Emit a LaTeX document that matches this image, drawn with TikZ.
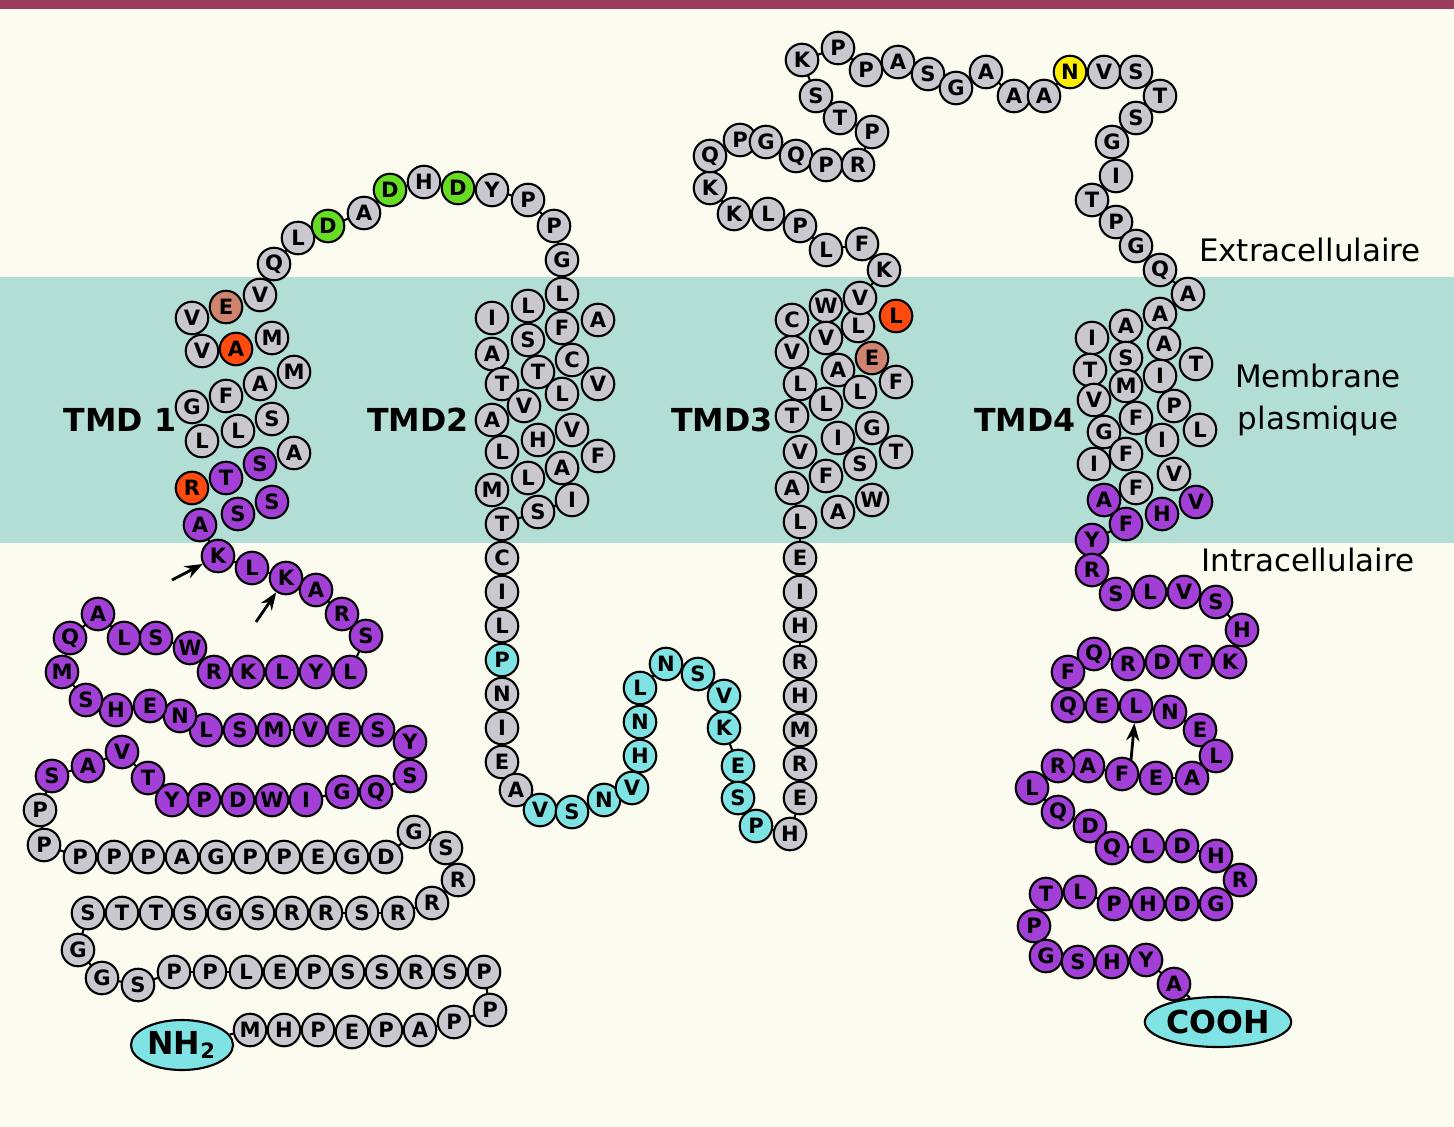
\documentclass[tikz,border=0pt]{standalone}
\usepackage{fontspec}
\setsansfont{DejaVu Sans}
\usetikzlibrary{arrows.meta,shapes.geometric}
\definecolor{cG}{HTML}{C8C8CE}
\definecolor{cP}{HTML}{A23FD6}
\definecolor{cC}{HTML}{7FE3E3}
\definecolor{cO}{HTML}{FF4A10}
\definecolor{cS}{HTML}{D08470}
\definecolor{cD}{HTML}{66DD22}
\definecolor{cY}{HTML}{FFEE00}
\definecolor{bgcream}{HTML}{FCFBF0}
\definecolor{bgband}{HTML}{B2DED6}
\definecolor{topbar}{HTML}{9A3C5E}
\tikzset{
  res/.style={circle,draw=black,line width=0.6pt,minimum size=0.325cm,inner sep=0pt,
    font=\sffamily\bfseries\fontsize{6}{6}\selectfont},
  term/.style={ellipse,draw=black,line width=0.6pt,fill=cC,minimum width=1.02cm,minimum height=0.5cm,inner sep=0pt,
    font=\sffamily\bfseries\fontsize{9}{9}\selectfont},
  lab/.style={font=\sffamily\bfseries\fontsize{9}{9}\selectfont},
  side/.style={font=\sffamily\fontsize{8.8}{12}\selectfont,align=center},
  site/.style={-{Stealth[length=5pt]},line width=0.8pt},
}
\def\chain{250/1030/M/cG,284/1030/H/cG,318/1030/P/cG,352/1032/E/cG,386/1030/P/cG,420/1030/A/cG,454/1022/P/cG,490/1010/P/cG,
484/972/P/cG,450/972/S/cG,416/972/R/cG,382/972/S/cG,348/972/S/cG,314/972/P/cG,280/972/E/cG,246/972/L/cG,210/972/P/cG,174/972/P/cG,138/985/S/cG,102/978/G/cG,78/950/G/cG,
88/913/S/cG,122/913/T/cG,156/913/T/cG,190/913/S/cG,224/913/G/cG,258/913/S/cG,292/913/R/cG,326/913/R/cG,362/913/S/cG,398/913/R/cG,432/903/R/cG,458/880/R/cG,446/848/S/cG,414/832/G/cG,
386/857/D/cG,352/857/G/cG,318/857/E/cG,284/857/P/cG,250/857/P/cG,216/857/G/cG,182/857/A/cG,148/857/P/cG,114/857/P/cG,80/857/P/cG,44/845/P/cG,40/810/P/cG,
52/776/S/cP,88/766/A/cP,122/752/V/cP,148/778/T/cP,172/800/Y/cP,204/800/P/cP,238/800/D/cP,272/800/W/cP,306/800/I/cP,342/792/G/cP,376/792/Q/cP,410/776/S/cP,410/742/Y/cP,
378/730/S/cP,344/730/E/cP,310/730/V/cP,274/730/M/cP,240/730/S/cP,206/730/L/cP,180/716/N/cP,150/706/E/cP,116/710/H/cP,86/700/S/cP,62/672/M/cP,
70/638/Q/cP,98/614/A/cP,124/638/L/cP,156/638/S/cP,190/648/W/cP,214/672/R/cP,248/672/K/cP,282/672/L/cP,316/672/Y/cP,350/672/L/cP,366/636/S/cP,342/614/R/cP,316/590/A/cP,286/578/K/cP,252/568/L/cP,218/556/K/cP,
200/525/A/cP,238/514/S/cP,272/502/S/cP,192/488/R/cO,226/478/T/cP,260/464/S/cP,294/453/A/cG,202/441/L/cG,238/431/L/cG,272/419/S/cG,192/407/G/cG,226/396/F/cG,260/384/A/cG,294/372/M/cG,202/351/V/cG,236/349/A/cO,272/338/M/cG,192/318/V/cG,226/307/E/cS,260/295/V/cG,
274/264/Q/cG,298/238/L/cG,328/226/D/cD,364/213/A/cG,390/190/D/cD,424/182/H/cG,458/188/D/cD,492/190/Y/cG,528/200/P/cG,554/226/P/cG,562/260/G/cG,
562/294/L/cG,598/320/A/cG,562/328/F/cG,528/306/L/cG,492/318/I/cG,528/340/S/cG,572/360/C/cG,598/384/V/cG,562/394/L/cG,538/372/T/cG,492/354/A/cG,502/384/T/cG,524/406/V/cG,492/420/A/cG,538/440/H/cG,572/430/V/cG,598/456/F/cG,562/468/A/cG,528/478/L/cG,502/452/L/cG,492/490/M/cG,538/512/S/cG,572/500/I/cG,
502/524/T/cG,502/558/C/cG,502/592/I/cG,502/626/L/cG,502/660/P/cC,502/694/N/cG,502/728/I/cG,502/762/E/cG,516/790/A/cG,540/810/V/cC,572/812/S/cC,604/800/N/cC,632/788/V/cC,640/756/H/cC,640/722/N/cC,640/688/L/cC,666/664/N/cC,698/674/S/cC,724/696/V/cC,724/728/K/cC,738/766/E/cC,738/798/S/cC,756/826/P/cC,790/834/H/cG,
800/798/E/cG,800/764/R/cG,800/730/M/cG,800/696/H/cG,800/662/R/cG,800/626/H/cG,800/592/I/cG,800/558/E/cG,800/522/L/cG,792/488/A/cG,838/512/A/cG,872/500/W/cG,860/464/S/cG,826/476/F/cG,800/452/V/cG,838/438/I/cG,872/428/G/cG,896/452/T/cG,826/404/L/cG,792/416/T/cG,800/384/L/cG,792/352/V/cG,792/320/C/cG,826/306/W/cG,826/338/V/cG,838/370/A/cG,860/392/L/cG,896/382/F/cG,872/358/E/cS,858/326/L/cG,896/316/L/cO,860/298/V/cG,
884/270/K/cG,862/244/F/cG,826/250/L/cG,800/226/P/cG,768/214/L/cG,734/214/K/cG,710/188/K/cG,710/156/Q/cG,740/140/P/cG,766/142/G/cG,796/156/Q/cG,826/165/P/cG,858/165/R/cG,872/132/P/cG,840/118/T/cG,816/96/S/cG,
802/60/K/cG,838/48/P/cG,866/70/P/cG,898/62/A/cG,928/74/S/cG,956/88/G/cG,986/72/A/cG,1014/96/A/cG,1044/96/A/cG,1070/72/N/cY,1104/72/V/cG,1136/72/S/cG,1160/96/T/cG,1136/118/S/cG,1112/142/G/cG,1116/176/I/cG,1092/200/T/cG,1116/222/P/cG,1136/246/G/cG,1160/270/Q/cG,1188/294/A/cG,
1160/314/A/cG,1126/326/A/cG,1092/338/I/cG,1164/344/A/cG,1196/364/T/cG,1126/358/S/cG,1090/370/T/cG,1126/386/M/cG,1160/376/I/cG,1174/406/P/cG,1136/418/F/cG,1094/400/V/cG,1104/432/G/cG,1200/430/L/cG,1162/440/I/cG,1126/454/F/cG,1094/464/I/cG,1174/474/V/cG,1136/488/F/cG,1104/500/A/cP,1196/502/V/cP,1162/514/H/cP,1126/524/F/cP,
1092/540/Y/cP,1092/570/R/cP,1116/594/S/cP,1150/592/L/cP,1184/592/V/cP,1216/602/S/cP,1242/630/H/cP,1230/662/K/cP,1196/662/T/cP,1162/662/D/cP,1128/664/R/cP,1094/654/Q/cP,1068/672/F/cP,
1068/706/Q/cP,1102/706/E/cP,1136/706/L/cP,1170/712/N/cP,1200/730/E/cP,1216/756/L/cP,1192/778/A/cP,1156/778/E/cP,1122/774/F/cP,1088/766/A/cP,1058/766/R/cP,1032/788/L/cP,
1058/812/Q/cP,1090/826/D/cP,1112/848/Q/cP,1148/846/L/cP,1182/846/D/cP,1216/856/H/cP,1240/880/R/cP,1216/904/G/cP,1182/904/D/cP,1148/904/H/cP,1114/904/P/cP,1080/892/L/cP,1046/894/T/cP,
1034/926/P/cP,1046/956/G/cP,1078/962/S/cP,1112/962/H/cP,1146/960/Y/cP,1174/984/A/cP}
\begin{document}
\begin{tikzpicture}[x=0.01cm,y=-0.01cm]
\useasboundingbox (0,0) rectangle (1454,1127);
% background
\fill[bgcream] (0,0) rectangle (1454,1127);
\fill[bgband] (0,277) rectangle (1454,543);
\fill[topbar] (0,0) rectangle (1454,9);

% chain
\foreach \x/\y/\l/\c [count=\i] in \chain {\coordinate (r\i) at (\x,\y); \xdef\nres{\i}}
\node[term] (nh2) at (182,1045) {NH\textsubscript{2}};
\node[term] (cooh) at (1218,1022) {COOH};
\draw[line width=0.6pt] (nh2) -- (r1);
\draw[line width=0.6pt] (r\nres) -- (cooh);
\foreach \i [remember=\i as \j (initially 1)] in {2,...,\nres}{
  \pgfmathtruncatemacro\inhelix{(\i>88 && \i<108) || (\i>119 && \i<142) || (\i>175 && \i<198) || (\i>235 && \i<258)}
  \ifnum\inhelix=0 \draw[line width=0.6pt] (r\j) -- (r\i);\fi
}
\foreach \x/\y/\l/\c [count=\i] in \chain
  \node[res,fill=\c] (n\i) at (r\i) {\l};

% labels
\node[lab] (tmd1) at (120,420) {TMD 1};
\node[lab] (tmd2) at (418,420) {TMD2};
\node[lab] (tmd3) at (722,420) {TMD3};
\node[lab] (tmd4) at (1025,420) {TMD4};
\node[side] (extra) at (1310,250) {Extracellulaire};
\node[side] (memb) at (1318,400) {Membrane\\plasmique};
\node[side] (intra) at (1308,560) {Intracellulaire};

% sites
\coordinate (a1) at (172,580);
\coordinate (a2) at (256,622);
\coordinate (a3) at (1131,760);
\draw[site] (a1) -- (n87);
\draw[site] (a2) -- (n85);
\draw[site] (a3) -- (n273);
\end{tikzpicture}
\end{document}
